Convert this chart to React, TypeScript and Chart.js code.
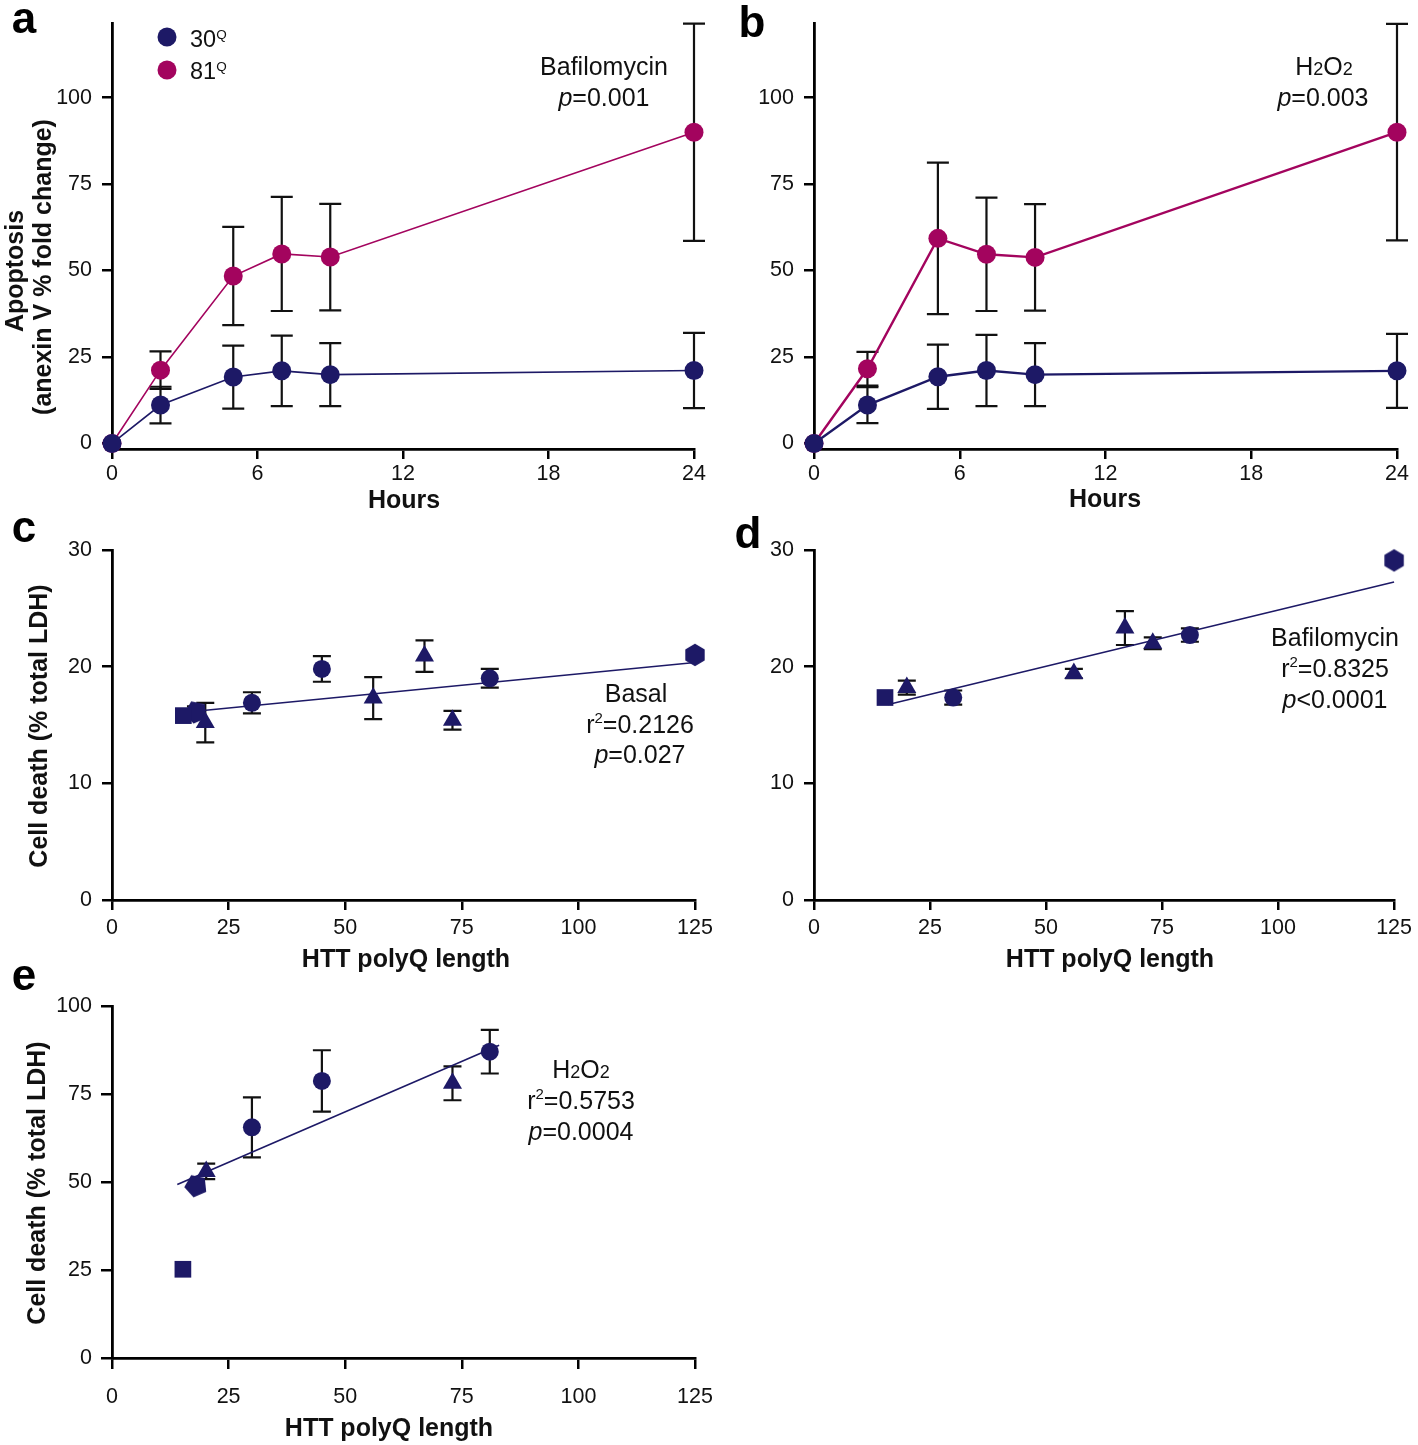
import React, { useEffect, useRef } from 'react';
import { Chart, registerables } from 'chart.js';

Chart.register(...registerables);

const FONT = "'Liberation Sans', Arial, Helvetica, sans-serif";
const NAVY = '#1d1966';
const MAGENTA = '#a3045e';
const INK = '#111111';

// ---------- Panel a: Bafilomycin time course (apoptosis) ----------
const bafHours = [0, 2, 5, 7, 9, 24];
const baf30Q = [0, 11.1, 19.2, 21.0, 19.9, 21.1];
const baf30QErr = [0, 5.3, 9.1, 10.2, 9.1, 10.9];
const baf81Q = [0, 21.2, 48.4, 54.8, 53.9, 90.0];
const baf81QErr = [0, 5.4, 14.2, 16.5, 15.4, 31.4];

// ---------- Panel b: H2O2 time course (apoptosis) ----------
const h2o2Hours = [0, 2.2, 5.1, 7.1, 9.1, 24];
const h2o2_30Q = [0, 11.1, 19.3, 21.1, 19.9, 21.0];
const h2o2_30QErr = [0, 5.2, 9.3, 10.3, 9.1, 10.7];
const h2o2_81Q = [0, 21.6, 59.3, 54.7, 53.8, 90.0];
const h2o2_81QErr = [0, 4.9, 21.9, 16.4, 15.4, 31.3];

const hourTicks = [0, 6, 12, 18, 24];
const apoptosisTicks = [0, 25, 50, 75, 100];
const apoptosisMin = -1.6;
const apoptosisMax = 121.6;

// ---------- Panel c: basal LDH release vs polyQ ----------
const basalPolyQ = [18, 15.3, 20, 30, 45, 56, 67, 73, 81, 125];
const basalDeath = [16.1, 15.8, 15.2, 16.9, 19.8, 17.3, 20.9, 15.4, 19.0, 21.0];
const basalErr = [0.5, 0, 1.7, 0.9, 1.1, 1.8, 1.35, 0.8, 0.8, 0];
const basalShape = ['pentagon', 'square', 'triangle', 'circle', 'circle', 'triangle', 'triangle', 'triangle', 'circle', 'hexagon'];
const basalFitQ = [14.6, 125];
const basalFitDeath = [16.05, 20.35];

// ---------- Panel d: bafilomycin LDH release vs polyQ ----------
const bafPolyQ = [15.3, 20, 30, 56, 67, 73, 81, 125];
const bafDeath = [17.35, 18.2, 17.35, 19.4, 23.3, 22.0, 22.7, 29.1];
const bafErr = [0, 0.6, 0.6, 0.4, 1.45, 0.5, 0.57, 0];
const bafShape = ['square', 'triangle', 'circle', 'triangle', 'triangle', 'triangle', 'circle', 'hexagon'];
const bafFitQ = [16, 125];
const bafFitDeath = [16.75, 27.25];

// ---------- Panel e: H2O2 LDH release vs polyQ ----------
const peroxPolyQ = [18, 15.2, 20.2, 30, 45, 73, 81];
const peroxDeath = [48.9, 25.2, 53.0, 65.5, 78.7, 78.0, 87.0];
const peroxErr = [0, 0, 2.2, 8.5, 8.7, 4.8, 6.2];
const peroxShape = ['pentagon', 'square', 'triangle', 'circle', 'circle', 'triangle', 'circle'];
const peroxFitQ = [14, 83];
const peroxFitDeath = [49.3, 88.8];

const polyQTicks = [0, 25, 50, 75, 100, 125];
const ldhTicksSmall = [0, 10, 20, 30];
const ldhTicksLarge = [0, 25, 50, 75, 100];

// ---------- layout (pixel boxes of each plot area) ----------
const YW = 100;
const BOX = {
  a: { L: 112, R: 694, T: 18, B: 449, xh: 60, xPad: 2, yPad: 10, tl: 10, padR: 20 },
  b: { L: 814, R: 1397, T: 18, B: 449, xh: 60, xPad: 2, yPad: 10, tl: 10, padR: 20 },
  c: { L: 112, R: 695, T: 547, B: 900, xh: 60, xPad: 5, yPad: 10, tl: 10, padR: 30 },
  d: { L: 814, R: 1397, T: 547, B: 900, xh: 60, xPad: 5, yPad: 10, tl: 10, padR: 20 },
  e: { L: 112, R: 695, T: 1004, B: 1358, xh: 70, xPad: 15, yPad: 9, tl: 11, padR: 40 },
};

function polygonCanvas(n: number, r: number, rotDeg: number, color: string) {
  const base = Math.ceil(r * 2 + 2);
  const size = base + (base % 2);
  const c = document.createElement('canvas');
  c.width = size;
  c.height = size;
  const g = c.getContext('2d')!;
  g.fillStyle = color;
  g.beginPath();
  for (let k = 0; k < n; k++) {
    const a = ((rotDeg + (k * 360) / n) * Math.PI) / 180;
    const x = size / 2 + r * Math.cos(a);
    const y = size / 2 + r * Math.sin(a);
    if (k === 0) g.moveTo(x, y);
    else g.lineTo(x, y);
  }
  g.closePath();
  g.fill();
  return c;
}

function pointStyleFor(name: string): any {
  if (name === 'square') return 'rect';
  if (name === 'triangle') return 'triangle';
  if (name === 'hexagon') return polygonCanvas(6, 11.2, -90, NAVY);
  if (name === 'pentagon') return polygonCanvas(5, 11.8, 102, NAVY);
  return 'circle';
}
function pointRadiusFor(name: string) {
  if (name === 'square') return 11.8;
  if (name === 'triangle') return 11;
  if (name === 'circle') return 9;
  return 11;
}

const errorBarPlugin = {
  id: 'errorBars',
  beforeDatasetsDraw(chart: any, _args: any, opts: any) {
    const ctx = chart.ctx;
    const xs = chart.scales.x;
    const ys = chart.scales.y;
    const cap = (opts && opts.cap) || 18;
    ctx.save();
    ctx.strokeStyle = INK;
    ctx.lineWidth = 2.2;
    chart.data.datasets.forEach((ds: any) => {
      const errs = ds.errors;
      if (!errs) return;
      ds.data.forEach((p: any, j: number) => {
        const e = errs[j];
        if (!e) return;
        const px = xs.getPixelForValue(p.x);
        const top = ys.getPixelForValue(p.y + e);
        const bot = ys.getPixelForValue(p.y - e);
        ctx.beginPath();
        ctx.moveTo(px, top);
        ctx.lineTo(px, bot);
        ctx.moveTo(px - cap / 2, top);
        ctx.lineTo(px + cap / 2, top);
        ctx.moveTo(px - cap / 2, bot);
        ctx.lineTo(px + cap / 2, bot);
        ctx.stroke();
      });
    });
    ctx.restore();
  },
};

function axis(position: string, min: number, max: number, ticks: number[], box: any) {
  const horizontal = position === 'bottom';
  return {
    type: 'linear',
    position,
    min,
    max,
    afterBuildTicks: (s: any) => {
      s.ticks = ticks.map((v) => ({ value: v }));
    },
    afterFit: (s: any) => {
      if (horizontal) s.height = box.xh;
      else s.width = YW;
    },
    ticks: {
      font: { family: FONT, size: 21.5 },
      color: INK,
      padding: horizontal ? box.xPad : box.yPad,
      maxRotation: 0,
      minRotation: 0,
      autoSkip: false,
    },
    grid: { drawOnChartArea: false, drawTicks: true, tickLength: box.tl, color: '#000', lineWidth: 2.5 },
    border: { display: true, color: '#000', width: 2.8 },
  };
}

function baseOptions(box: any, xMin: number, xMax: number, xTicks: number[], yMin: number, yMax: number, yTicks: number[], cap: number) {
  const padTop = Math.min(box.T, 20);
  return {
    responsive: false,
    maintainAspectRatio: false,
    animation: false,
    devicePixelRatio: 1,
    events: [],
    layout: { autoPadding: false, padding: { left: 0, top: padTop, right: box.padR, bottom: 0 } },
    plugins: { legend: { display: false }, tooltip: { enabled: false }, title: { display: false }, errorBars: { cap } },
    scales: {
      x: axis('bottom', xMin, xMax, xTicks, box),
      y: axis('left', yMin, yMax, yTicks, box),
    },
  };
}

function timeCourseConfig(box: any, hours: number[], s30: number[], e30: number[], s81: number[], e81: number[], lw: number) {
  const mk = (vals: number[], errs: number[], color: string, label: string) => ({
    label,
    data: hours.map((h, i) => ({ x: h, y: vals[i] })),
    errors: errs,
    borderColor: color,
    backgroundColor: color,
    borderWidth: lw,
    pointRadius: 9.5,
    pointHoverRadius: 9.5,
    pointBackgroundColor: color,
    pointBorderWidth: 0,
    tension: 0,
    clip: false,
  });
  return {
    type: 'line',
    data: { datasets: [mk(s30, e30, NAVY, '30Q'), mk(s81, e81, MAGENTA, '81Q')] },
    options: baseOptions(box, 0, 24, hourTicks, apoptosisMin, apoptosisMax, apoptosisTicks, 22),
    plugins: [errorBarPlugin],
  };
}

function polyQConfig(box: any, q: number[], death: number[], err: number[], shape: string[], fitQ: number[], fitD: number[], yMax: number, yTicks: number[]) {
  return {
    type: 'scatter',
    data: {
      datasets: [
        {
          label: 'lines',
          data: q.map((v, i) => ({ x: v, y: death[i] })),
          errors: err,
          pointStyle: shape.map(pointStyleFor),
          pointRadius: shape.map(pointRadiusFor),
          pointHoverRadius: shape.map(pointRadiusFor),
          backgroundColor: NAVY,
          pointBackgroundColor: NAVY,
          pointBorderWidth: 0,
          showLine: false,
          clip: false,
        },
        {
          label: 'fit',
          data: fitQ.map((v, i) => ({ x: v, y: fitD[i] })),
          showLine: true,
          borderColor: NAVY,
          borderWidth: 1.6,
          pointRadius: 0,
          pointHoverRadius: 0,
          clip: false,
        },
      ],
    },
    options: baseOptions(box, 0, 125, polyQTicks, 0, yMax, yTicks, 18),
    plugins: [errorBarPlugin],
  };
}

function ChartPanel({ box, make }: { box: any; make: () => any }) {
  const ref = useRef<HTMLCanvasElement>(null);
  useEffect(() => {
    const chart = new Chart(ref.current as HTMLCanvasElement, make());
    return () => chart.destroy();
  }, []);
  const padTop = Math.min(box.T, 20);
  const left = box.L - YW;
  const top = box.T - padTop;
  const width = box.R - box.L + YW + box.padR;
  const height = box.B - box.T + padTop + box.xh;
  return (
    <canvas
      ref={ref}
      width={width}
      height={height}
      style={{ position: 'absolute', left, top, width, height }}
    />
  );
}

export default function App() {
  const t = { fill: INK, fontFamily: FONT } as any;
  return (
    <div style={{ position: 'absolute', left: 0, top: 0, width: 1418, height: 1445, overflow: 'hidden', background: '#fff' }}>
      <ChartPanel box={BOX.a} make={() => timeCourseConfig(BOX.a, bafHours, baf30Q, baf30QErr, baf81Q, baf81QErr, 1.6)} />
      <ChartPanel box={BOX.b} make={() => timeCourseConfig(BOX.b, h2o2Hours, h2o2_30Q, h2o2_30QErr, h2o2_81Q, h2o2_81QErr, 2.4)} />
      <ChartPanel box={BOX.c} make={() => polyQConfig(BOX.c, basalPolyQ, basalDeath, basalErr, basalShape, basalFitQ, basalFitDeath, 30, ldhTicksSmall)} />
      <ChartPanel box={BOX.d} make={() => polyQConfig(BOX.d, bafPolyQ, bafDeath, bafErr, bafShape, bafFitQ, bafFitDeath, 30, ldhTicksSmall)} />
      <ChartPanel box={BOX.e} make={() => polyQConfig(BOX.e, peroxPolyQ, peroxDeath, peroxErr, peroxShape, peroxFitQ, peroxFitDeath, 100, ldhTicksLarge)} />
      <svg width={1418} height={1445} style={{ position: 'absolute', left: 0, top: 0, pointerEvents: 'none' }}>
        {/* panel letters */}
        <g fontFamily={FONT} fontWeight="bold" fontSize={44} fill="#000">
          <text x={24} y={33} textAnchor="middle">a</text>
          <text x={752} y={37} textAnchor="middle">b</text>
          <text x={24} y={542} textAnchor="middle">c</text>
          <text x={748} y={548} textAnchor="middle">d</text>
          <text x={24} y={990} textAnchor="middle">e</text>
        </g>
        {/* legend */}
        <circle cx={167} cy={37} r={9.5} fill={NAVY} />
        <circle cx={167} cy={70} r={9.5} fill={MAGENTA} />
        <text x={190} y={47} fontSize={23.5} {...t}>30<tspan dy={-8} fontSize={13.5}>Q</tspan></text>
        <text x={190} y={79} fontSize={23.5} {...t}>81<tspan dy={-8} fontSize={13.5}>Q</tspan></text>
        {/* annotations */}
        <g fontSize={25} textAnchor="middle" {...t}>
          <text x={604} y={75}>Bafilomycin</text>
          <text x={604} y={106}><tspan fontStyle="italic">p</tspan>=0.001</text>
          <text x={1324} y={75}>H<tspan fontSize={18}>2</tspan>O<tspan fontSize={18}>2</tspan></text>
          <text x={1323} y={106}><tspan fontStyle="italic">p</tspan>=0.003</text>

          <text x={636} y={702}>Basal</text>
          <text x={640} y={733}>r<tspan dy={-10} fontSize={15}>2</tspan><tspan dy={10}>=0.2126</tspan></text>
          <text x={640} y={763}><tspan fontStyle="italic">p</tspan>=0.027</text>

          <text x={1335} y={646}>Bafilomycin</text>
          <text x={1335} y={677}>r<tspan dy={-10} fontSize={15}>2</tspan><tspan dy={10}>=0.8325</tspan></text>
          <text x={1335} y={708}><tspan fontStyle="italic">p</tspan>&lt;0.0001</text>

          <text x={581} y={1078}>H<tspan fontSize={18}>2</tspan>O<tspan fontSize={18}>2</tspan></text>
          <text x={581} y={1109}>r<tspan dy={-10} fontSize={15}>2</tspan><tspan dy={10}>=0.5753</tspan></text>
          <text x={581} y={1140}><tspan fontStyle="italic">p</tspan>=0.0004</text>
        </g>
        {/* axis titles */}
        <g fontSize={25} fontWeight="bold" textAnchor="middle" {...t}>
          <text x={404} y={508}>Hours</text>
          <text x={1105} y={507}>Hours</text>
          <text x={406} y={967}>HTT polyQ length</text>
          <text x={1110} y={967}>HTT polyQ length</text>
          <text x={389} y={1436}>HTT polyQ length</text>
          <text transform="translate(23,271) rotate(-90)">Apoptosis</text>
          <text transform="translate(51,267) rotate(-90)">(anexin V % fold change)</text>
          <text transform="translate(47,726) rotate(-90)">Cell death (% total LDH)</text>
          <text transform="translate(45,1183) rotate(-90)">Cell death (% total LDH)</text>
        </g>
      </svg>
    </div>
  );
}
